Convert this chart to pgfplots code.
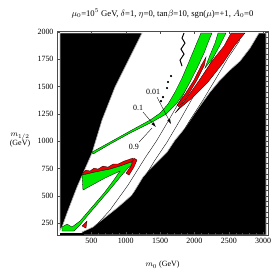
\documentclass[border=0pt]{standalone}
\usepackage{fontspec}
\setmainfont{Liberation Serif}
\usepackage{pgfplots}
\pgfplotsset{compat=1.18}
\usetikzlibrary{arrows.meta}
\definecolor{mgreen}{RGB}{0,235,0}
\definecolor{mred}{RGB}{240,0,0}
\begin{document}
\begin{tikzpicture}
\begin{axis}[
 at={(0,0)}, anchor=south west,
 width=211bp, height=204bp, scale only axis,
 xmin=0, xmax=3070, ymin=140, ymax=2010,
 xtick={500,1000,...,3000}, ytick={250,500,...,2000},
 minor x tick num=4, minor y tick num=4,
 tick align=inside, major tick length=3bp, minor tick length=1.5bp,
 tick style={gray!60!black, line width=0.3pt},
 axis line style={gray!60!black, line width=0.5pt},
 ticklabel style={font=\fontsize{8}{9}\selectfont},
 /pgf/number format/assume math mode=true,
 /pgf/number format/1000 sep={},
 title={$\mu_0$=10$^5$ GeV, $\delta$=1, $\eta$=0, tan$\beta$=10, sgn($\mu$)=+1, $A_0$=0},
 title style={font=\fontsize{8.7}{10}\selectfont, at={(axis description cs:0.5,1)}, anchor=south, yshift=3bp},
 xlabel={$m_0$ (GeV)},
 xlabel style={font=\fontsize{8}{9}\selectfont, at={(axis description cs:0.5,0)}, anchor=center, yshift=-30bp},
 ylabel={$m_{1/2}$\\(GeV)},
 ylabel style={font=\fontsize{8}{9}\selectfont, rotate=-90, align=center, at={(axis description cs:0,0.466)}, anchor=center, xshift=-37bp},
 axis on top,
]
% left excluded region
\addplot[fill=black, draw=gray!60, line width=0.6pt] coordinates {
(44,1991) (1237,1991) (1091,1807) (844,1496) (655,1193) (509,891) (291,579) (146,341) (73,213) (44,185)} -- cycle;
% right excluded region
\addplot[fill=black, draw=gray!60, line width=0.6pt] coordinates {
(364,140) (364,167) (524,213) (873,387) (1091,506) (1251,671) (1353,744) (1601,900) (1717,1010) (1862,1120) (2037,1285) (2226,1450) (2372,1560) (2517,1652) (2663,1734) (2808,1853) (2939,1991) (3041,1991) (3041,140)} -- cycle;
% bottom strip
\addplot[fill=black, draw=none] coordinates {(44,140) (400,140) (400,158) (44,158)} -- cycle;
% contour lines
\addplot[black, line width=0.35pt] coordinates {(480,167) (771,368) (1033,597) (1280,845) (1455,1010) (1644,1212) (1819,1404) (1979,1606) (2124,1817) (2226,1991)};
\addplot[black, line width=0.35pt] coordinates {(626,167) (917,368) (1179,570) (1426,827) (1601,991) (1790,1193) (1979,1404) (2153,1606) (2299,1807) (2415,1991)};
\addplot[black, line width=0.35pt] coordinates {(771,185) (1062,387) (1324,570) (1542,799) (1717,964) (1935,1193) (2124,1377) (2299,1560) (2488,1762) (2663,1927)};
% upper green band
\addplot[fill=mgreen, draw=black, line width=0.3pt] coordinates {
(509,900) (771,991) (1062,1093) (1353,1193) (1499,1257) (1615,1340) (1717,1450) (1819,1578) (1906,1707) (1979,1817) (2052,1927) (2095,1991) (2255,1991) (2212,1927) (2139,1807) (2052,1688) (1950,1560) (1848,1441) (1746,1349) (1586,1248) (1382,1175) (1062,1074) (771,973) (524,882)} -- cycle;
\addplot[fill=mgreen, draw=black, line width=0.3pt] coordinates {
(2153,1670) (2226,1789) (2299,1899) (2343,1991) (2459,1991) (2372,1881) (2270,1762)} -- cycle;
% red wedges
\addplot[fill=mred, draw=black, line width=0.3pt] coordinates {
(1717,1257) (1906,1412) (2081,1569) (2255,1734) (2430,1872) (2532,1991) (2735,1991) (2590,1881) (2415,1716) (2197,1542) (1964,1395) (1790,1303)} -- cycle;
\addplot[fill=mred, draw=black, line width=0.3pt] coordinates {
(1746,1330) (1863,1431) (1993,1560) (2100,1697) (2168,1771) (2145,1697) (2037,1560) (1906,1422) (1775,1315)} -- cycle;
% lower flag
\addplot[fill=mred, draw=black, line width=0.3pt] coordinates {
(378,707) (422,735) (480,726) (538,753) (597,744) (669,772) (742,762) (815,790) (888,790) (975,817) (1062,836) (1106,845) (1106,817) (1077,808) (917,772) (771,744) (553,717) (364,689)} -- cycle;
\addplot[fill=mgreen, draw=black, line width=0.3pt] coordinates {
(364,689) (553,717) (771,744) (917,772) (1077,808) (1106,790) (1033,753) (931,680) (800,579) (626,451) (451,322) (335,231) (247,176) (73,176) (73,213) (146,240) (218,213) (335,268) (509,396) (684,524) (815,634) (917,726) (698,662) (509,597) (378,552)} -- cycle;
\addplot[fill=mred, draw=black, line width=0.3pt] coordinates {
(1120,845) (1164,827) (1120,763) (1048,689) (1004,707) (1077,772)} -- cycle;
\addplot[fill=mred, draw=black, line width=0.3pt] coordinates {(364,222) (437,268) (422,203)} -- cycle;
% squiggle and dots
\addplot[black, line width=1pt] coordinates {(1848,1991) (1819,1945) (1862,1899) (1804,1844) (1848,1798) (1790,1743) (1819,1688)};
\addplot[only marks, mark=*, mark size=0.9pt, black] coordinates {(1659,1597) (1615,1542) (1601,1487) (1542,1404) (1513,1367)};
% labels and arrows
\addplot[black, line width=0.35pt, -{Latex[length=5bp,width=3bp]}] coordinates {(1251,1267) (1440,1129)};
\addplot[black, line width=0.35pt, -{Latex[length=5bp,width=3bp]}] coordinates {(1455,1404) (1659,1157)};
\addplot[black, line width=0.35pt] coordinates {(1193,991) (1382,1120)};
\node[font=\fontsize{8}{9}\selectfont, fill=white, inner sep=0.5pt] at (axis cs:1397,1450) {0.01};
\node[font=\fontsize{8}{9}\selectfont, fill=white, inner sep=0.5pt] at (axis cs:1179,1303) {0.1};
\node[font=\fontsize{8}{9}\selectfont, fill=white, inner sep=0.5pt] at (axis cs:1120,946) {0.9};
\end{axis}
\path[use as bounding box] (-57bp,-45bp) rectangle (223bp,235bp);
\end{tikzpicture}
\end{document}
